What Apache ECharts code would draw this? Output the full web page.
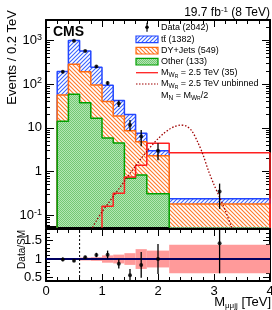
<!DOCTYPE html>
<html><head><meta charset="utf-8">
<script src="https://cdn.jsdelivr.net/npm/echarts@6/dist/echarts.min.js"></script>
<style>html,body{margin:0;padding:0;background:#fff}#c{width:272px;height:310px}</style>
</head><body><div id="c"></div>
<script>
// ---------- data ----------
const binEdges = [0.2, 0.4, 0.6, 0.8, 1.0, 1.2, 1.4, 1.6, 1.8, 2.2, 4.0];
const binCenters = [0.3, 0.5, 0.7, 0.9, 1.1, 1.3, 1.5, 1.7, 2.0, 3.1];
const ttbar = [136, 708, 380, 145, 54, 23.4, 11.5, 2.7, 0.7, 0.06];
const dyJets = [42, 224, 152, 78.5, 34.2, 14.1, 7.8, 3.97, 1.99, 0.18];
const other = [14, 58, 37.5, 16.5, 5.8, 4.5, 0.7, 0.83, 0.31, 0];
const signalBinned = [0, 0, 0, 0, 0.16, 0.32, 0.75, 1.4, 4.4, 2.7];
const unbinnedX = [0.80, 0.90, 1.00, 1.10, 1.20, 1.30, 1.40, 1.50, 1.60, 1.70, 1.80, 1.90, 2.00, 2.10, 2.20, 2.30, 2.40, 2.50, 2.60, 2.70, 2.80, 2.90, 3.00, 3.10, 3.20, 3.30, 3.35];
const unbinnedY = [0.045, 0.075, 0.12, 0.18, 0.27, 0.40, 0.60, 0.90, 1.35, 2.0, 2.9, 4.1, 5.6, 7.4, 9.2, 10.7, 11.5, 11.0, 8.6, 5.0, 2.5, 1.05, 0.5, 0.26, 0.13, 0.06, 0.045];
const dataVals = [190, 970, 570, 250, 105, 36, 11.6, 6.3, 3.0, 0.35];
const dataLo = [176, 940, 546, 234, 95, 30, 8.6, 3.8, 1.8, 0.14];
const dataHi = [204, 1000, 594, 266, 115, 42, 15.1, 8.9, 4.4, 0.53];
const ratioVals = [0.99, 0.95, 1.05, 1.11, 1.12, 0.87, 0.56, 0.84, 1.0, 1.43];
const ratioLo = [0.94, 0.92, 1.01, 1.05, 1.01, 0.74, 0.39, 0.49, 0.59, 0.61];
const ratioHi = [1.04, 0.98, 1.09, 1.17, 1.23, 1.00, 0.73, 1.19, 1.41, 2.27];
const bandEdges = [0.6, 0.8, 1.0, 1.2, 1.4, 1.6, 1.8, 2.2, 4.0];
const bandHalf = [0.04, 0.05, 0.10, 0.12, 0.16, 0.27, 0.23, 0.39];
const cutLine = 0.6;
const xTicks = [0, 1, 2, 3, 4];
const yMajorTicks = [0.1, 1, 10, 100, 1000];
const yMinorTicks = [0.06, 0.07, 0.08, 0.09, 0.2, 0.3, 0.4, 0.5, 0.6, 0.7, 0.8, 0.9, 2, 3, 4, 5, 6, 7, 8, 9, 20, 30, 40, 50, 60, 70, 80, 90, 200, 300, 400, 500, 600, 700, 800, 900, 2000];
const ratioMajorTicks = [0.5, 1, 1.5];
const ratioMinorTicks = [0.6, 0.7, 0.8, 0.9, 1.1, 1.2, 1.3, 1.4, 1.6, 1.7, 1.8];
const legendLabels = ['Data (2042)', 'tt\u0304 (1382)', 'DY+Jets (549)', 'Other (133)', 'M{s|W}{ss|R} = 2.5 TeV (35)', 'M{s|W}{ss|R} = 2.5 TeV unbinned', 'M{s|N} = M{s|W}{ss|R}/2'];
const yTitle = 'Events / 0.2 TeV';
const ratioTitle = 'Data/SM';

// ---------- helpers ----------
const FLOOR = 1e-3;
const YMIN = 0.054, YMAX = 2900, RMIN = 0.4, RMAX = 1.82;
const FONT = "'Liberation Sans', Arial, sans-serif";
function stepData(vals) {
  const n = binEdges.length - 1;
  const pts = [[binEdges[0], FLOOR]];
  for (let i = 0; i < n; i++) pts.push([binEdges[i], Math.max(vals[i], FLOOR)]);
  pts.push([binEdges[n], Math.max(vals[n - 1], FLOOR)]);
  pts.push([binEdges[n], FLOOR]);
  return pts;
}
const otherTop = other.slice();
const dyTop = dyJets.map((v, i) => v + other[i]);
const totalTop = ttbar.map((v, i) => v + dyTop[i]);

function hatch(color, dir) {
  const s = 4, c = document.createElement('canvas');
  c.width = s; c.height = s;
  const g = c.getContext('2d');
  g.fillStyle = '#fff'; g.fillRect(0, 0, s, s);
  g.strokeStyle = color; g.lineWidth = 1.1; g.beginPath();
  if (dir > 0) { g.moveTo(0, s); g.lineTo(s, 0); g.moveTo(-1, 1); g.lineTo(1, -1); g.moveTo(s - 1, s + 1); g.lineTo(s + 1, s - 1); }
  else { g.moveTo(0, 0); g.lineTo(s, s); g.moveTo(-1, s - 1); g.lineTo(1, s + 1); g.moveTo(s - 1, -1); g.lineTo(s + 1, 1); }
  g.stroke();
  return { image: c, repeat: 'repeat' };
}
function checker() {
  const c = document.createElement('canvas'); c.width = 2; c.height = 2;
  const g = c.getContext('2d');
  g.fillStyle = '#b4e6b4'; g.fillRect(0, 0, 2, 2);
  g.fillStyle = '#74c874'; g.fillRect(0, 0, 1, 1); g.fillRect(1, 1, 1, 1);
  return { image: c, repeat: 'repeat' };
}
const BLUE = '#2246ff', ORANGE = '#ff6a10', GREEN = '#00a000', RED = '#ff2020';
const blueFill = hatch('#3a63ff', 1), orangeFill = hatch('#ff7a2a', -1), greenFill = checker();

const supRich = { sup: { fontSize: 9, lineHeight: 9, verticalAlign: 'top', fontFamily: FONT, color: '#000' }, base: {} };
function yFmt(v) {
  if (Math.abs(v - 1) < 1e-9) return '1';
  if (Math.abs(v - 10) < 1e-9) return '10';
  const e = Math.round(Math.log10(v));
  return '10{sup|' + e + '}';
}

function xAxisDef(grid, pos, labels) {
  return {
    type: 'value', gridIndex: grid, position: pos, min: 0, max: 4, interval: 1,
    axisLine: { show: true, onZero: false, lineStyle: { color: '#000', width: 2 } },
    axisTick: { show: true, inside: true, length: 7, lineStyle: { color: '#000', width: 1 } },
    minorTick: { show: true, splitNumber: 5, length: 4, lineStyle: { color: '#000', width: 1 } },
    axisLabel: { show: labels, margin: 4, fontSize: 13, color: '#000', fontFamily: FONT },
    splitLine: { show: false }, minorSplitLine: { show: false }
  };
}
function logAxisDef(pos, major, labels) {
  return {
    type: 'log', gridIndex: 0, position: pos, min: YMIN, max: YMAX, logBase: 10,
    axisLine: { show: major, onZero: false, lineStyle: { color: '#000', width: 2 } },
    axisTick: { show: true, inside: true, length: major ? 8 : 4, customValues: major ? yMajorTicks : yMinorTicks, lineStyle: { color: '#000', width: 1 } },
    axisLabel: { show: labels, customValues: yMajorTicks, formatter: yFmt, margin: 4, fontSize: 13, lineHeight: 15, color: '#000', fontFamily: FONT, rich: supRich },
    splitLine: { show: false }
  };
}
function ratioAxisDef(pos, major, labels) {
  return {
    type: 'value', gridIndex: 1, position: pos, min: RMIN, max: RMAX,
    axisLine: { show: major, onZero: false, lineStyle: { color: '#000', width: 2 } },
    axisTick: { show: true, inside: true, length: major ? 7 : 4, customValues: major ? ratioMajorTicks : ratioMinorTicks, lineStyle: { color: '#000', width: 1 } },
    axisLabel: { show: labels, customValues: ratioMajorTicks, margin: 4, fontSize: 13, color: '#000', fontFamily: FONT },
    splitLine: { show: false }
  };
}

const errBarRender = (p, api) => {
  const a = api.coord([api.value(0), api.value(1)]);
  const b = api.coord([api.value(0), api.value(2)]);
  return { type: 'line', shape: { x1: a[0], y1: a[1], x2: b[0], y2: b[1] }, style: { stroke: '#000', lineWidth: 1.3 } };
};

const chart = echarts.init(document.getElementById('c'), null, { renderer: 'canvas' });
const legX = 136, legTX = 161;
const legY = [27.3, 39.3, 50.7, 61.7, 72.7, 84, 95.5];
const legRich = { s: { fontSize: 6.5, lineHeight: 9, verticalAlign: 'bottom', fontFamily: FONT, fill: '#000' }, ss: { fontSize: 5, lineHeight: 6, verticalAlign: 'bottom', fontFamily: FONT, fill: '#000' } };

const graphics = [];
legendLabels.forEach((t, i) => {
  graphics.push({ type: 'text', x: legTX, y: legY[i], z: 50, style: { text: t, fontSize: 9, lineHeight: 12, fontFamily: FONT, fill: '#000', verticalAlign: 'middle', align: 'left', rich: legRich } });
});
graphics.push({ type: 'line', z: 50, shape: { x1: legX + 11, y1: legY[0] - 4.5, x2: legX + 11, y2: legY[0] + 4.5 }, style: { stroke: '#000', lineWidth: 1.2 } });
graphics.push({ type: 'circle', z: 51, shape: { cx: legX + 11, cy: legY[0], r: 1.8 }, style: { fill: '#000' } });
[[blueFill, BLUE], [orangeFill, ORANGE], [greenFill, GREEN]].forEach((f, k) => {
  graphics.push({ type: 'rect', z: 50, shape: { x: legX, y: legY[k + 1] - 3.3, width: 22, height: 6.6 }, style: { fill: f[0], stroke: f[1], lineWidth: 1.2 } });
});
graphics.push({ type: 'line', z: 50, shape: { x1: legX, y1: legY[4], x2: legX + 22, y2: legY[4] }, style: { stroke: RED, lineWidth: 1.3 } });
graphics.push({ type: 'line', z: 50, shape: { x1: legX, y1: legY[5], x2: legX + 22, y2: legY[5] }, style: { stroke: '#a00000', lineWidth: 1.2, lineDash: [1.5, 1.5] } });
graphics.push({ type: 'text', z: 50, x: 53, y: 32, style: { text: 'CMS', fontSize: 14, fontWeight: 'bold', fontFamily: FONT, fill: '#000', verticalAlign: 'middle' } });
graphics.push({ type: 'text', z: 50, x: 270, y: 12.5, style: { text: '19.7 fb{sup|-1} (8 TeV)', fontSize: 12, lineHeight: 14, fontFamily: FONT, fill: '#000', align: 'right', verticalAlign: 'middle', rich: { sup: { fontSize: 8, lineHeight: 8, verticalAlign: 'top', fontFamily: FONT, fill: '#000' } } } });
graphics.push({ type: 'text', z: 50, x: 271, y: 302, style: { text: 'M{sub|μμjj} [TeV]', fontSize: 13, lineHeight: 15, fontFamily: FONT, fill: '#000', align: 'right', verticalAlign: 'middle', rich: { sub: { fontSize: 8, lineHeight: 8, verticalAlign: 'bottom', fontFamily: FONT, fill: '#000' } } } });
graphics.push({ type: 'text', z: 50, x: 12.5, y: 10, rotation: Math.PI / 2, style: { text: yTitle, fontSize: 13, fontFamily: FONT, fill: '#000', align: 'right', verticalAlign: 'middle' } });
graphics.push({ type: 'text', z: 50, x: 22, y: 230, rotation: Math.PI / 2, style: { text: ratioTitle, fontSize: 10, fontFamily: FONT, fill: '#000', align: 'right', verticalAlign: 'middle' } });

const option = {
  animation: false,
  backgroundColor: '#fff',
  textStyle: { fontFamily: FONT },
  grid: [
    { left: 46, right: 2, top: 20, height: 207, outerBoundsMode: 'none', containLabel: false },
    { left: 46, right: 2, top: 229, height: 52, outerBoundsMode: 'none', containLabel: false }
  ],
  xAxis: [xAxisDef(0, 'bottom', false), xAxisDef(0, 'top', false), xAxisDef(1, 'bottom', true), xAxisDef(1, 'top', false)],
  yAxis: [
    logAxisDef('left', true, true), logAxisDef('left', false, false),
    logAxisDef('right', true, false), logAxisDef('right', false, false),
    ratioAxisDef('left', true, true), ratioAxisDef('left', false, false),
    ratioAxisDef('right', true, false), ratioAxisDef('right', false, false)
  ],
  graphic: graphics,
  series: [
    { name: 'ttbar', type: 'line', xAxisIndex: 0, yAxisIndex: 0, step: 'end', symbol: 'none', data: stepData(totalTop), lineStyle: { color: BLUE, width: 1.5 }, areaStyle: { color: blueFill, opacity: 1, origin: 'start' }, z: 2 },
    { name: 'DY+Jets', type: 'line', xAxisIndex: 0, yAxisIndex: 0, step: 'end', symbol: 'none', data: stepData(dyTop), lineStyle: { color: ORANGE, width: 1.5 }, areaStyle: { color: orangeFill, opacity: 1, origin: 'start' }, z: 3 },
    { name: 'Other', type: 'line', xAxisIndex: 0, yAxisIndex: 0, step: 'end', symbol: 'none', data: stepData(otherTop), lineStyle: { color: GREEN, width: 1.5 }, areaStyle: { color: greenFill, opacity: 1, origin: 'start' }, z: 4 },
    { name: 'Signal', type: 'line', xAxisIndex: 0, yAxisIndex: 0, step: 'end', symbol: 'none', data: stepData(signalBinned), lineStyle: { color: RED, width: 1.5 }, z: 5 },
    { name: 'Unbinned', type: 'line', xAxisIndex: 0, yAxisIndex: 0, smooth: 0.3, symbol: 'none', data: unbinnedX.map((x, i) => [x, unbinnedY[i]]), lineStyle: { color: '#a00000', width: 1.3, type: [1.5, 1.8] }, z: 6 },
    { name: 'DataErr', type: 'custom', xAxisIndex: 0, yAxisIndex: 0, clip: true, encode: { x: 0, y: [1, 2] }, data: binCenters.map((x, i) => [x, dataLo[i], dataHi[i]]), renderItem: errBarRender, z: 7 },
    { name: 'Data', type: 'scatter', xAxisIndex: 0, yAxisIndex: 0, symbol: 'circle', symbolSize: 4, data: binCenters.map((x, i) => [x, dataVals[i]]), itemStyle: { color: '#000' }, z: 8 },
    { name: 'Band', type: 'custom', xAxisIndex: 2, yAxisIndex: 4, clip: true, encode: { x: [0, 1], y: [2, 3] },
      data: bandHalf.map((h, i) => [bandEdges[i], bandEdges[i + 1], 1 - h, 1 + h]),
      renderItem: (p, api) => {
        const a = api.coord([api.value(0), api.value(3)]);
        const b = api.coord([api.value(1), api.value(2)]);
        return { type: 'rect', shape: { x: a[0], y: a[1], width: b[0] - a[0], height: b[1] - a[1] }, style: { fill: '#ff9a9a' } };
      }, z: 2 },
    { name: 'Unity', type: 'line', xAxisIndex: 2, yAxisIndex: 4, symbol: 'none', data: [[0, 1], [4, 1]], lineStyle: { color: '#000060', width: 2 }, z: 3 },
    { name: 'Cut', type: 'line', xAxisIndex: 2, yAxisIndex: 4, symbol: 'none', data: [[cutLine, RMIN], [cutLine, RMAX]], lineStyle: { color: '#000', width: 1, type: [2, 2] }, z: 3 },
    { name: 'RatioErr', type: 'custom', xAxisIndex: 2, yAxisIndex: 4, clip: true, encode: { x: 0, y: [1, 2] }, data: binCenters.map((x, i) => [x, ratioLo[i], ratioHi[i]]), renderItem: errBarRender, z: 7 },
    { name: 'Ratio', type: 'scatter', xAxisIndex: 2, yAxisIndex: 4, symbol: 'circle', symbolSize: 4, data: binCenters.map((x, i) => [x, ratioVals[i]]), itemStyle: { color: '#000' }, z: 8 }
  ]
};
chart.setOption(option);
</script>
</body></html>
